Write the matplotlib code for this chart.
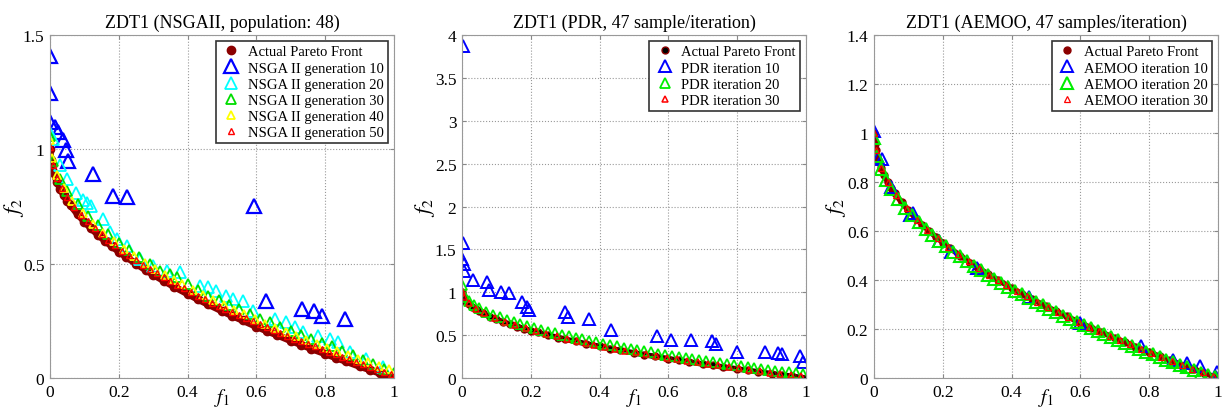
import numpy as np
import matplotlib
matplotlib.use('Agg')
import matplotlib.pyplot as plt
from matplotlib.ticker import FuncFormatter

plt.rcParams['font.family'] = 'serif'
plt.rcParams['font.serif'] = ['Liberation Serif', 'DejaVu Serif']
plt.rcParams['mathtext.fontset'] = 'stix'

# ---------------- data ----------------
# actual Pareto front samples
front_f1 = [0, 0.002, 0.005, 0.01, 0.02, 0.03, 0.04, 0.05, 0.06, 0.08, 0.1, 0.12, 0.14, 0.16, 0.18,
            0.2, 0.22, 0.25, 0.28, 0.3, 0.33, 0.36, 0.4, 0.43, 0.46, 0.5, 0.53, 0.56, 0.6, 0.63,
            0.66, 0.7, 0.73, 0.76, 0.8, 0.83, 0.86, 0.9, 0.93, 0.96, 1.0]
front_f2 = [1.0, 0.955, 0.929, 0.90, 0.859, 0.827, 0.80, 0.776, 0.755, 0.717, 0.684, 0.654, 0.626, 0.60, 0.576,
            0.553, 0.531, 0.50, 0.471, 0.452, 0.426, 0.40, 0.368, 0.344, 0.322, 0.293, 0.272, 0.252, 0.225, 0.206,
            0.188, 0.163, 0.146, 0.128, 0.106, 0.089, 0.073, 0.051, 0.036, 0.020, 0.0]

# panel 1: NSGA II
ns10_f1 = [0, 0, 0, 0.015, 0.024, 0.037, 0.046, 0.051, 0.126, 0.184, 0.225, 0.592, 0.629, 0.734, 0.767, 0.792, 0.857]
ns10_f2 = [1.41, 1.246, 1.12, 1.096, 1.075, 1.04, 0.995, 0.95, 0.892, 0.794, 0.792, 0.751, 0.337, 0.302, 0.294, 0.270, 0.258]

ns20_f1 = [0, 0.01, 0.03, 0.048, 0.077, 0.097, 0.108, 0.118, 0.155, 0.174, 0.194, 0.223, 0.261, 0.3, 0.339,
           0.378, 0.436, 0.46, 0.484, 0.513, 0.532, 0.561, 0.59, 0.653, 0.687, 0.711, 0.736, 0.779, 0.813, 0.837,
           0.871, 0.92, 0.968]
ns20_f2 = [1.07, 1.045, 0.93, 0.87, 0.81, 0.78, 0.765, 0.754, 0.695, 0.637, 0.608, 0.579, 0.52, 0.49, 0.469,
           0.462, 0.404, 0.397, 0.382, 0.360, 0.345, 0.338, 0.294, 0.258, 0.243, 0.222, 0.2, 0.185, 0.171, 0.156,
           0.112, 0.083, 0.047]

ns30_f1 = [0, 0.01, 0.03, 0.05, 0.08, 0.11, 0.14, 0.17, 0.2, 0.23, 0.26, 0.29, 0.32, 0.35, 0.37, 0.4, 0.43, 0.46,
           0.49, 0.52, 0.55, 0.58, 0.61, 0.64, 0.67, 0.7, 0.73, 0.76, 0.79, 0.82, 0.85, 0.88, 0.91, 0.94, 0.97, 1.0]
ns30_f2 = [1.06, 0.95, 0.87, 0.82, 0.76, 0.71, 0.67, 0.63, 0.59, 0.56, 0.53, 0.50, 0.47, 0.455, 0.44, 0.41, 0.385, 0.36,
           0.34, 0.32, 0.30, 0.28, 0.26, 0.245, 0.225, 0.205, 0.19, 0.17, 0.155, 0.14, 0.12, 0.10, 0.08, 0.06, 0.04, 0.02]

ns40_f1 = [0, 0.005, 0.02, 0.04, 0.065, 0.095, 0.125, 0.155, 0.185, 0.215, 0.245, 0.275, 0.305, 0.335, 0.36, 0.385,
           0.415, 0.445, 0.475, 0.505, 0.535, 0.565, 0.595, 0.625, 0.655, 0.685, 0.715, 0.745, 0.775, 0.805, 0.835,
           0.865, 0.895, 0.925, 0.955, 0.985]
ns40_f2 = [1.04, 0.96, 0.89, 0.83, 0.775, 0.72, 0.675, 0.635, 0.6, 0.565, 0.535, 0.505, 0.478, 0.45, 0.43, 0.41,
           0.385, 0.362, 0.34, 0.318, 0.298, 0.278, 0.258, 0.238, 0.22, 0.2, 0.183, 0.166, 0.15, 0.133, 0.116,
           0.1, 0.084, 0.068, 0.053, 0.038]

ns50_f1 = [0, 0.008, 0.02, 0.035, 0.05, 0.07, 0.09, 0.11, 0.13, 0.15, 0.17, 0.19, 0.21, 0.23, 0.25, 0.27, 0.29,
           0.31, 0.33, 0.35, 0.37, 0.39, 0.41, 0.43, 0.45, 0.47, 0.49, 0.51, 0.53, 0.55, 0.57, 0.59, 0.61, 0.63,
           0.65, 0.67, 0.69, 0.71, 0.73, 0.75, 0.77, 0.79, 0.81, 0.83, 0.85, 0.87, 0.89, 0.91, 0.93, 0.95, 0.97, 0.99]
ns50_f2 = [1.01, 0.93, 0.875, 0.83, 0.79, 0.75, 0.715, 0.685, 0.655, 0.63, 0.605, 0.58, 0.557, 0.537, 0.515, 0.495,
           0.478, 0.46, 0.442, 0.425, 0.408, 0.392, 0.376, 0.36, 0.345, 0.33, 0.316, 0.302, 0.288, 0.275, 0.262,
           0.248, 0.235, 0.222, 0.21, 0.198, 0.185, 0.172, 0.162, 0.15, 0.138, 0.127, 0.115, 0.105, 0.093, 0.082,
           0.072, 0.06, 0.05, 0.04, 0.028, 0.018]

# panel 2: PDR
pdr10_f1 = [0.003, 0.003, 0.001, 0.005, 0.007, 0.032, 0.074, 0.079, 0.114, 0.138, 0.174, 0.188, 0.196, 0.3,
            0.309, 0.37, 0.434, 0.568, 0.609, 0.667, 0.728, 0.739, 0.8, 0.882, 0.918, 0.93, 0.983, 0.99]
pdr10_f2 = [3.876, 1.574, 1.388, 1.33, 1.252, 1.147, 1.123, 1.03, 0.999, 0.991, 0.89, 0.824, 0.797, 0.766,
            0.707, 0.688, 0.564, 0.486, 0.447, 0.447, 0.428, 0.397, 0.307, 0.307, 0.292, 0.28, 0.253, 0.183]

pdr20_f1 = ns50_f1
pdr20_f2 = [1.08, 0.95, 0.9, 0.855, 0.815, 0.775, 0.74, 0.71, 0.68, 0.655, 0.63, 0.605, 0.58, 0.56, 0.54, 0.52,
            0.5, 0.485, 0.465, 0.45, 0.43, 0.415, 0.4, 0.385, 0.37, 0.355, 0.34, 0.325, 0.31, 0.3, 0.285, 0.27,
            0.26, 0.245, 0.235, 0.22, 0.21, 0.195, 0.185, 0.175, 0.16, 0.15, 0.14, 0.13, 0.12, 0.105, 0.095,
            0.085, 0.075, 0.065, 0.055, 0.045]

pdr30_f1 = ns40_f1
pdr30_f2 = [1.02, 0.94, 0.87, 0.81, 0.755, 0.70, 0.655, 0.615, 0.58, 0.545, 0.515, 0.485, 0.458, 0.43, 0.41, 0.39,
            0.365, 0.343, 0.32, 0.3, 0.278, 0.258, 0.238, 0.22, 0.2, 0.182, 0.163, 0.146, 0.13, 0.113, 0.096,
            0.08, 0.064, 0.048, 0.033, 0.018]

# panel 3: AEMOO
ae10_f1 = [0.0, 0.012, 0.022, 0.05, 0.104, 0.113, 0.19, 0.225, 0.3, 0.45, 0.6, 0.777, 0.87, 0.91, 0.947, 0.998, 0.995]
ae10_f2 = [1.01, 0.9, 0.895, 0.78, 0.665, 0.675, 0.56, 0.515, 0.45, 0.33, 0.225, 0.13, 0.075, 0.062, 0.048, 0.025, 0.005]

ae20_f1 = ns50_f1
ae20_f2 = [0.98, 0.905, 0.855, 0.808, 0.772, 0.73, 0.695, 0.664, 0.635, 0.609, 0.584, 0.56, 0.538, 0.516, 0.496,
           0.476, 0.457, 0.44, 0.422, 0.405, 0.389, 0.373, 0.357, 0.341, 0.326, 0.311, 0.297, 0.283, 0.269, 0.255,
           0.242, 0.229, 0.216, 0.203, 0.191, 0.178, 0.166, 0.154, 0.143, 0.131, 0.119, 0.108, 0.097, 0.086,
           0.075, 0.064, 0.054, 0.043, 0.033, 0.022, 0.012, 0.003]

ae30_f1 = ns40_f1
ae30_f2 = [1.0, 0.929, 0.859, 0.80, 0.745, 0.692, 0.646, 0.606, 0.570, 0.536, 0.505, 0.476, 0.448, 0.421, 0.40,
           0.380, 0.356, 0.333, 0.311, 0.289, 0.269, 0.248, 0.229, 0.209, 0.191, 0.172, 0.154, 0.137, 0.120,
           0.103, 0.086, 0.070, 0.054, 0.038, 0.023, 0.008]

titles = ['ZDT1 (NSGAII, population: 48)', 'ZDT1 (PDR, 47 sample/iteration)', 'ZDT1 (AEMOO, 47 samples/iteration)']
ymax = [1.5, 4, 1.4]
yticks = [[0, 0.5, 1, 1.5], np.arange(0, 4.01, 0.5), np.arange(0, 1.41, 0.2)]
ylab_x = [-0.07, -0.073, -0.075]

fig = plt.figure(figsize=(12.22, 4.14), dpi=100)
lefts = [50 / 1222, 462 / 1222, 874 / 1222]
axes = [fig.add_axes([l, 0.0845, 0.2815, 0.8285]) for l in lefts]

fmt = FuncFormatter(lambda v, p: '%g' % v)
tri = dict(linestyle='none', marker='^', markerfacecolor='none')

# panel 1
ax = axes[0]
ax.plot(front_f1, front_f2, '-', color='#8b0000', lw=5, zorder=1)
ax.plot(front_f1, front_f2, 'o', color='#8b0000', ms=6, label='Actual Pareto Front')
ax.plot(ns10_f1, ns10_f2, color='blue', ms=10, mew=1.6, label='NSGA II generation 10', **tri)
ax.plot(ns20_f1, ns20_f2, color='cyan', ms=8, mew=1.3, label='NSGA II generation 20', **tri)
ax.plot(ns30_f1, ns30_f2, color='#00dd00', ms=7, mew=1.3, label='NSGA II generation 30', **tri)
ax.plot(ns40_f1, ns40_f2, color='yellow', ms=6, mew=1.3, label='NSGA II generation 40', **tri)
ax.plot(ns50_f1, ns50_f2, color='red', ms=4.5, mew=1.0, label='NSGA II generation 50', **tri)

# panel 2
ax = axes[1]
ax.plot(front_f1, front_f2, '-', color='#300000', lw=4, zorder=1)
ax.plot(front_f1, front_f2, 'o', color='black', mec='#8b0000', ms=5, label='Actual Pareto Front')
ax.plot(pdr10_f1, pdr10_f2, color='blue', ms=8, mew=1.4, label='PDR iteration 10', **tri)
ax.plot(pdr20_f1, pdr20_f2, color='#00ee00', ms=7, mew=1.3, label='PDR iteration 20', **tri)
ax.plot(pdr30_f1, pdr30_f2, color='red', ms=5, mew=1.1, label='PDR iteration 30', **tri)

# panel 3
ax = axes[2]
ax.plot(front_f1, front_f2, '-', color='#8b0000', lw=4, zorder=1)
ax.plot(front_f1, front_f2, 'o', color='#8b0000', ms=5, label='Actual Pareto Front')
ax.plot(ae10_f1, ae10_f2, color='blue', ms=9, mew=1.4, label='AEMOO iteration 10', **tri)
ax.plot(ae20_f1, ae20_f2, color='#00ee00', ms=8.5, mew=1.5, label='AEMOO iteration 20', **tri)
ax.plot(ae30_f1, ae30_f2, color='red', ms=4, mew=0.9, label='AEMOO iteration 30', **tri)

for i, ax in enumerate(axes):
    ax.set_xlim(0, 1)
    ax.set_ylim(0, ymax[i])
    ax.set_xticks(np.arange(0, 1.01, 0.2))
    ax.set_yticks(yticks[i])
    ax.xaxis.set_major_formatter(fmt)
    ax.yaxis.set_major_formatter(fmt)
    ax.grid(True, linestyle=':', color='#999999', lw=0.8)
    ax.set_axisbelow(True)
    ax.tick_params(direction='in', labelsize=12.5, length=3, color='#888888', pad=4,
                   top=True, right=True)
    for s in ax.spines.values():
        s.set_color('#999999')
    ax.set_title(titles[i], fontsize=13, pad=6)
    ax.set_xlabel('$f_1$', fontsize=14)
    ax.xaxis.set_label_coords(0.5, -0.022)
    ax.xaxis.label.set_va('top')
    ax.set_ylabel('$f_2$', fontsize=16)
    ax.yaxis.set_label_coords(ylab_x[i], 0.5)
    leg = ax.legend(loc='upper right', fontsize=10.5, fancybox=False, framealpha=1,
                    edgecolor='#333333', borderaxespad=0.4, handletextpad=0.4,
                    labelspacing=0.2, borderpad=0.3, handlelength=1.5)
    leg.get_frame().set_linewidth(1.2)

fig.savefig('out.png', dpi=100)
